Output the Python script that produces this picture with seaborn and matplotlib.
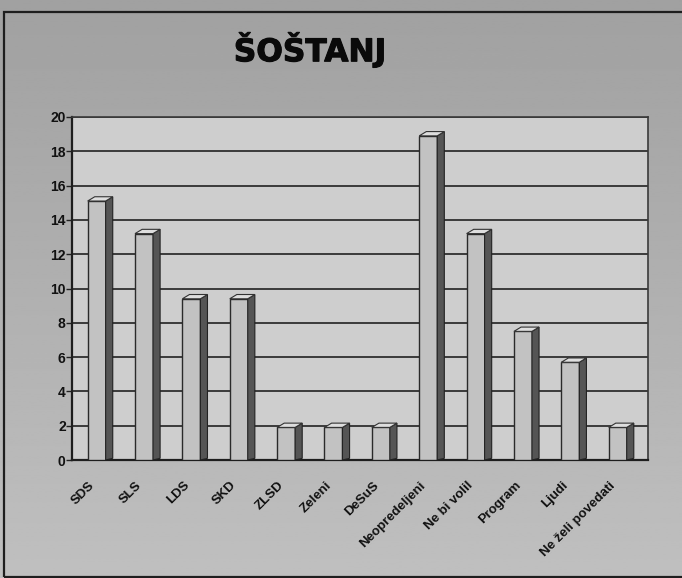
import numpy as np
import pandas as pd
import seaborn as sns
import matplotlib.pyplot as plt
import matplotlib.patheffects as pe
from matplotlib.patches import Polygon, Rectangle

# Results for Šoštanj (share of respondents, %)
categories = ['SDS', 'SLS', 'LDS', 'SKD', 'ZLSD', 'Zeleni', 'DeSuS',
              'Neopredeljeni', 'Ne bi volil', 'Program', 'Ljudi', 'Ne želi povedati']
values = [15.1, 13.2, 9.4, 9.4, 1.9, 1.9, 1.9, 18.9, 13.2, 7.5, 5.7, 1.9]
y_ticks = list(range(0, 21, 2))

df = pd.DataFrame({'kategorija': categories, 'odstotek': values})

sns.set_theme(style="white")
plt.rcParams['font.family'] = ['Liberation Sans', 'DejaVu Sans']

fig = plt.figure(figsize=(6.82, 5.78), dpi=100)

# scanned paper background: darker at top, lighter towards the bottom
bg = fig.add_axes([0, 0, 1, 1], zorder=-10)
grad = np.linspace(0.63, 0.75, 256).reshape(-1, 1)
bg.imshow(grad, cmap='gray', vmin=0, vmax=1, aspect='auto', extent=[0, 1, 0, 1], origin='upper')
bg.set_xlim(0, 1)
bg.set_ylim(0, 1)
bg.axis('off')
# frame around the graphic
bg.add_patch(Rectangle((4 / 682, 0.002), 1.1, 1 - 12 / 578 - 0.002, fill=False,
                       edgecolor='#1e1e1e', linewidth=1.6))

ax = fig.add_axes([72 / 682, 1 - 460 / 578, (648 - 72) / 682, (460 - 117) / 578])
ax.set_facecolor('#cecece')

sns.barplot(data=df, x='kategorija', y='odstotek', ax=ax, color='#c2c2c2',
            edgecolor='#2a2a2a', linewidth=1.0, width=0.38, saturation=1, zorder=3)

# fake 3D: side and top faces taken from the seaborn bars
dx, dy = 0.15, 0.25
for p in list(ax.patches):
    x0 = p.get_x()
    x1 = x0 + p.get_width()
    h = p.get_height()
    ax.add_patch(Polygon([(x1, 0), (x1 + dx, 0.1), (x1 + dx, h + dy), (x1, h)],
                         closed=True, facecolor='#555555', edgecolor='#222222',
                         linewidth=0.8, zorder=3))
    ax.add_patch(Polygon([(x0, h), (x0 + dx, h + dy), (x1 + dx, h + dy), (x1, h)],
                         closed=True, facecolor='#dedede', edgecolor='#333333',
                         linewidth=0.8, zorder=3))

ax.set_xlim(-0.52, 11.64)
ax.set_ylim(0, 20)
ax.set_yticks(y_ticks)
ax.set_yticklabels([str(t) for t in y_ticks], fontsize=10, fontweight='bold', color='#111111')
ax.yaxis.grid(True, color='#3a3a3a', linewidth=1.4, zorder=0)
ax.set_axisbelow(True)

# category labels, slanted, sitting a little left of and below each bar
ax.set_xticks(range(len(categories)))
ax.set_xticklabels([])
ax.set_xticks(np.arange(len(categories)) + 0.5, minor=True)
for i, cat in enumerate(categories):
    ax.annotate(cat, xy=(i, 0), xycoords=ax.get_xaxis_transform(),
                xytext=(-6, -14), textcoords='offset points',
                rotation=45, ha='right', va='top', rotation_mode='anchor',
                fontsize=9.5, fontweight='bold', color='#111111', annotation_clip=False)

ax.tick_params(axis='x', which='major', length=0)
ax.tick_params(axis='x', which='minor', length=5, width=1, color='#222222', direction='out')
ax.tick_params(axis='y', length=4, width=1, color='#222222', direction='out', left=True, pad=0.5)

for side in ['left', 'bottom']:
    ax.spines[side].set_color('#1e1e1e')
    ax.spines[side].set_linewidth(1.6)
for side in ['top', 'right']:
    ax.spines[side].set_color('#3a3a3a')
    ax.spines[side].set_linewidth(1.2)

ax.set_xlabel('')
ax.set_ylabel('')

fig.text(310 / 682, 1 - 50 / 578, 'ŠOŠTANJ', ha='center', va='center',
         fontsize=22.5, fontweight='heavy', family=['DejaVu Sans'], color='#0a0a0a',
         path_effects=[pe.withStroke(linewidth=0.8, foreground='#0a0a0a')])

plt.savefig('out.png', dpi=100)
